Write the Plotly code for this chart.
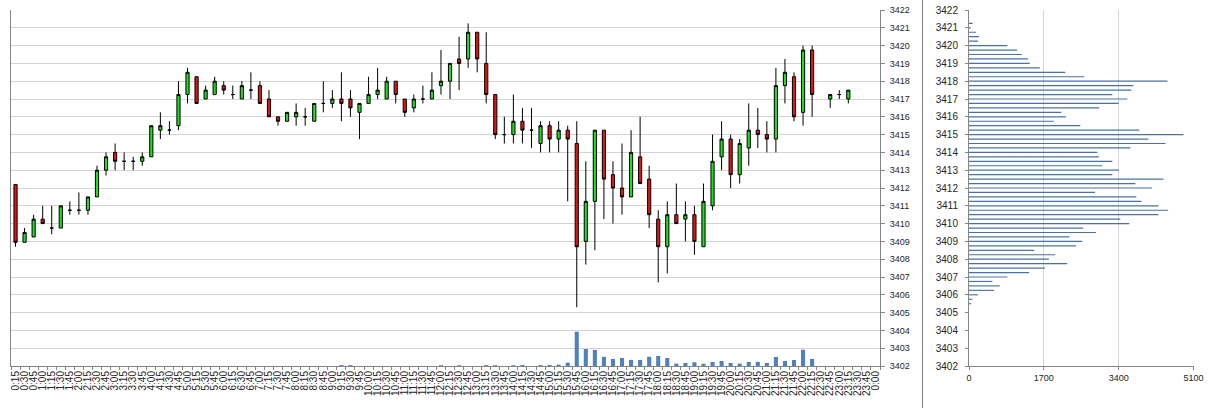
import plotly.graph_objects as go

W, H = 1211, 408

times = ["0:15","0:30","0:45","1:00","1:15","1:30","1:45","2:00","2:15","2:30","2:45","3:00",
         "3:15","3:30","3:45","4:00","4:15","4:30","4:45","5:00","5:15","5:30","5:45","6:00",
         "6:15","6:30","6:45","7:00","7:15","7:30","7:45","8:00","8:15","8:30","8:45","9:00",
         "9:15","9:30","9:45","10:00","10:15","10:30","10:45","11:00","11:15","11:30","11:45","12:00",
         "12:15","12:30","12:45","13:00","13:15","13:30","13:45","14:00","14:15","14:30","14:45","15:00",
         "15:15","15:30","15:45","16:00","16:15","16:30","16:45","17:00","17:15","17:30","17:45","18:00",
         "18:15","18:30","18:45","19:00","19:15","19:30","19:45","20:00","20:15","20:30","20:45","21:00",
         "21:15","21:30","21:45","22:00","22:15","22:30","22:45","23:00","23:15","23:30","23:45","0:00"]

N = None
opens = [3412.2,3408.95,3409.25,3410.25,3409.75,3409.75,3410.75,3410.75,3410.75,3411.5,3413.0,3414.0,
         3413.5,3413.5,3413.5,3413.75,3415.25,3415.25,3415.5,3417.25,3418.25,3417.0,3417.25,3417.75,
         3417.25,3417.0,3417.5,3417.75,3417.0,3416.0,3415.75,3416.0,3416.0,3415.75,3416.75,3416.75,
         3417.0,3417.0,3416.25,3416.75,3417.25,3417.0,3418.0,3417.0,3416.5,3417.0,3417.0,3417.75,
         3418.0,3419.25,3419.25,3420.75,3419.0,3417.25,3415.0,3415.0,3415.75,3415.25,3414.5,3415.5,
         3414.75,3415.25,3414.5,3409.0,3411.25,3415.25,3412.75,3412.0,3411.5,3413.75,3412.5,3410.25,
         3408.7,3410.5,3410.25,3410.5,3408.7,3411.0,3413.75,3414.75,3412.75,3414.25,3415.25,3415.0,
         3414.75,3417.75,3418.25,3416.25,3419.75,N,3417.0,3417.25,3417.0,N,N,N]
highs = [3412.2,3409.75,3410.5,3411.0,3411.0,3411.0,3411.25,3411.75,3411.5,3413.25,3414.0,3414.5,
         3414.0,3413.75,3414.0,3415.5,3416.25,3415.75,3418.0,3418.75,3418.25,3417.75,3418.25,3418.0,
         3417.75,3418.0,3418.5,3418.0,3417.5,3416.0,3416.25,3416.75,3416.5,3416.75,3418.0,3417.5,
         3418.5,3417.5,3416.75,3418.25,3418.75,3418.25,3418.0,3417.0,3417.25,3417.75,3418.5,3419.75,
         3419.0,3420.5,3421.25,3420.75,3420.75,3417.25,3416.0,3417.25,3416.5,3416.5,3415.75,3415.75,
         3415.75,3415.5,3415.75,3413.5,3415.25,3415.25,3413.5,3414.5,3415.25,3416.0,3413.25,3410.75,
         3411.25,3412.25,3411.25,3411.0,3412.25,3415.0,3415.75,3415.0,3414.75,3416.75,3416.5,3415.75,
         3418.75,3419.25,3418.5,3420.0,3420.0,N,3417.25,3417.5,3417.5,N,N,N]
lows = [3408.7,3408.95,3409.25,3410.0,3409.4,3409.75,3410.5,3410.5,3410.5,3411.5,3412.7,3413.0,
        3413.0,3413.0,3413.25,3413.75,3414.75,3415.0,3415.25,3416.75,3416.75,3417.0,3417.25,3417.25,
        3417.0,3417.0,3417.0,3416.75,3416.0,3415.5,3415.75,3415.5,3415.5,3415.75,3416.25,3416.5,
        3415.75,3416.0,3414.75,3416.75,3417.0,3417.0,3416.75,3416.0,3416.25,3416.75,3417.0,3417.25,
        3417.0,3417.5,3418.75,3418.5,3416.75,3414.75,3414.5,3414.5,3414.5,3414.25,3414.0,3414.0,
        3414.0,3411.25,3405.3,3407.7,3408.5,3410.25,3410.0,3410.5,3411.5,3412.25,3409.75,3406.7,
        3407.2,3410.0,3409.0,3408.25,3408.7,3410.75,3413.0,3412.0,3412.25,3413.25,3414.25,3414.0,
        3414.0,3416.75,3415.75,3415.5,3416.0,N,3416.5,3417.0,3416.75,N,N,N]
closes = [3408.95,3409.5,3410.25,3410.0,3409.75,3411.0,3410.75,3410.75,3411.5,3413.0,3413.75,3413.5,
          3413.5,3413.5,3413.75,3415.5,3415.5,3415.25,3417.25,3418.5,3416.75,3417.5,3418.0,3417.5,
          3417.25,3417.75,3417.5,3416.75,3416.0,3415.75,3416.25,3416.25,3416.0,3416.75,3416.75,3417.0,
          3416.75,3416.5,3416.75,3417.25,3417.5,3418.0,3417.25,3416.25,3417.0,3417.0,3417.5,3418.0,
          3419.0,3419.0,3420.75,3419.25,3417.25,3415.0,3415.0,3415.75,3415.25,3415.25,3415.5,3414.75,
          3415.25,3414.75,3408.7,3411.25,3415.25,3412.5,3412.0,3411.5,3414.0,3412.25,3410.5,3408.7,
          3410.5,3410.0,3410.5,3409.0,3411.25,3413.5,3414.75,3412.75,3414.5,3415.25,3415.0,3414.75,
          3417.75,3418.5,3416.0,3419.75,3417.25,N,3417.25,3417.25,3417.5,N,N,N]

volumes = [0,0,0,0,0,0,0,0,0,0,0,0,
           0,0,0,0,0,0,0,0,0,0,0,0,
           0,0,0,0,0,0,0,0,0,0,0,0,
           700,700,0,0,0,0,0,0,0,0,0,600,
           0,600,0,0,700,600,0,600,800,0,700,800,
           1100,2700,27400,13600,12900,7300,5600,6400,4900,4800,7400,8000,
           6400,1900,2400,3000,1800,3200,4000,2400,1900,3200,3300,2400,
           7200,4000,4800,13000,5600,0,0,0,0,0,0,0]

profile_levels = [3421.25,3421.0,3420.75,3420.5,3420.25,3420.0,3419.75,3419.5,3419.25,3419.0,
                  3418.75,3418.5,3418.25,3418.0,3417.75,3417.5,3417.25,3417.0,3416.75,3416.5,
                  3416.25,3416.0,3415.75,3415.5,3415.25,3415.0,3414.75,3414.5,3414.25,3414.0,
                  3413.75,3413.5,3413.25,3413.0,3412.75,3412.5,3412.25,3412.0,3411.75,3411.5,
                  3411.25,3411.0,3410.75,3410.5,3410.25,3410.0,3409.75,3409.5,3409.25,3409.0,
                  3408.75,3408.5,3408.25,3408.0,3407.75,3407.5,3407.25,3407.0,3406.75,3406.5,
                  3406.25,3406.0,3405.75,3405.5]
profile_volumes = [83,40,159,228,205,873,1093,1199,1343,1381,
                   1609,2186,2618,4508,3734,3688,3256,3597,3400,2960,
                   2095,2201,1928,2527,3870,4872,4075,4462,3666,2914,
                   2952,3256,3028,3400,3256,4417,3779,4159,2861,3802,
                   3916,4303,4523,4303,3438,3643,2596,2884,2277,2573,
                   2429,1480,1958,1814,2231,1723,1366,873,531,698,
                   569,205,76,46]

price_ticks = [3402 + k for k in range(21)]
profile_ticks = [0, 1700, 3400, 5100]

pos = list(range(len(times)))

FONT = "Liberation Sans, Arial, sans-serif"
TXT = "#262626"
AXC = "#868686"
GRID = "#d4d4d4"

fig = go.Figure()

fig.add_trace(go.Bar(x=pos, y=volumes, width=0.45, marker=dict(color="#4f81bd", line=dict(width=0)),
                     xaxis="x", yaxis="y2", hoverinfo="skip"))

fig.add_trace(go.Candlestick(
    x=pos, open=opens, high=highs, low=lows, close=closes,
    xaxis="x", yaxis="y",
    increasing=dict(fillcolor="#1fe01f", line=dict(color="#000000", width=1)),
    decreasing=dict(fillcolor="#e01414", line=dict(color="#000000", width=1)),
    whiskerwidth=0,
))

fig.add_trace(go.Bar(x=profile_volumes, y=profile_levels, orientation="h", width=0.065,
                     marker=dict(color="#4a72a4", line=dict(width=0)),
                     xaxis="x2", yaxis="y3", hoverinfo="skip"))

ytop = 1 - 10 / H
ybot = 1 - 366 / H

fig.update_layout(
    width=W, height=H, margin=dict(l=0, r=0, t=0, b=0, autoexpand=False),
    paper_bgcolor="white", plot_bgcolor="white",
    showlegend=False, boxgap=0.5, bargap=0.5,
    font=dict(family=FONT, size=9, color=TXT),
    xaxis=dict(domain=[11 / W, 880 / W], range=[-0.5, len(times) - 0.5], anchor="y", automargin=False,
               tickmode="array", tickvals=pos, ticktext=times, tickangle=-90,
               ticks="", showgrid=False, zeroline=False, showline=True, linecolor=AXC,
               tickfont=dict(size=10, color=TXT), ticklabelstandoff=0,
               minor=dict(tickmode="array", tickvals=[p - 0.5 for p in pos] + [len(times) - 0.5],
                          ticks="outside", ticklen=3, tickcolor=AXC, showgrid=False),
               rangeslider=dict(visible=False), fixedrange=True),
    yaxis=dict(domain=[ybot, ytop], range=[3402, 3422], side="right", anchor="x", automargin=False,
               tickmode="array", tickvals=price_ticks, ticks="outside", ticklen=4, tickcolor=AXC,
               showgrid=True, gridcolor=GRID, zeroline=False, showline=True, linecolor=AXC,
               mirror=True, tickfont=dict(size=9, color=TXT), ticklabelstandoff=3),
    yaxis2=dict(domain=[ybot, ytop], range=[0, 284800], overlaying="y", visible=False, automargin=False),
    xaxis2=dict(domain=[969 / W, 1193.5 / W], range=[0, 5100], anchor="y3", automargin=False,
                tickmode="array", tickvals=profile_ticks, ticks="outside", ticklen=3, tickcolor=AXC,
                showgrid=True, gridcolor=GRID, zeroline=False, showline=True, linecolor=AXC,
                tickfont=dict(size=9, color=TXT)),
    yaxis3=dict(domain=[ybot, ytop], range=[3402, 3422], anchor="x2", automargin=False,
                tickmode="array", tickvals=price_ticks, ticks="outside", ticklen=3, tickcolor=AXC,
                showgrid=False, zeroline=False, showline=True, linecolor=AXC,
                tickfont=dict(size=10, color=TXT), ticklabelstandoff=5),
    shapes=[dict(type="line", xref="paper", yref="paper", x0=922.5 / W, x1=922.5 / W, y0=0, y1=1,
                 line=dict(color="#7f7f7f", width=1))],
)

fig.write_html("out.html", config={"displayModeBar": False, "staticPlot": True},
               post_script="document.body.style.margin='0px';document.body.style.overflow='hidden';")
